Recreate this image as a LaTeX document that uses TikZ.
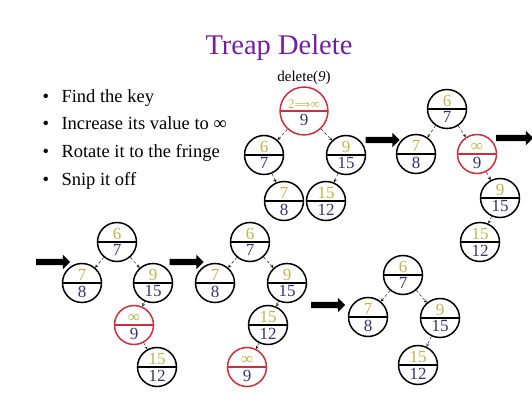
\documentclass[tikz,border=0pt]{standalone}
\usepackage{fontspec}
\setmainfont{Liberation Serif}
\newfontfamily\tpsym{DejaVu Sans}
\usepackage{xcolor}
\usetikzlibrary{shapes,arrows,positioning}
\definecolor{tpkey}{RGB}{190,180,80}
\definecolor{tpprio}{RGB}{50,50,110}
\definecolor{tpred}{RGB}{205,45,60}
\definecolor{tppurple}{RGB}{115,30,160}

\begin{document}
\begin{tikzpicture}[x=1pt, y=-1pt,
    tnode/.style={circle split, draw, line width=1.5pt, minimum size=39pt,
                  inner sep=2pt, font=\fontsize{17}{17}\selectfont},
    delnode/.style={tnode, draw=tpred},
    link/.style={->, >=stealth, thin, densely dashed},
    bigarrow/.style={single arrow, fill=black, inner sep=3pt, minimum height=34pt,
                     single arrow head extend=4pt, single arrow head indent=0pt},
    bullet/.style={anchor=base west, font=\fontsize{18.5}{18.5}\selectfont}
]
    \useasboundingbox (0,0) rectangle (532,411);

    % Title and bullets
    \node[anchor=base, text=tppurple, font=\fontsize{28.5}{28.5}\selectfont] (title) at (279,55) {Treap Delete};
    \node[bullet] (b1) at (39,103) {\makebox[19pt][l]{\textbullet}Find the key};
    \node[bullet] (b2) at (39,130) {\makebox[19pt][l]{\textbullet}Increase its value to ∞};
    \node[bullet] (b3) at (39,158) {\makebox[19pt][l]{\textbullet}Rotate it to the fringe};
    \node[bullet] (b4) at (39,186) {\makebox[19pt][l]{\textbullet}Snip it off};
    \node[anchor=base, font=\fontsize{15}{15}\selectfont] (del) at (304,82) {delete(\textit{9})};

    % Tree 1
    \node[delnode, minimum size=46pt] (a0) at (304,111)
        {{\color{tpkey}\fontsize{13}{13}\selectfont 2{\tpsym\fontsize{11}{11}\selectfont ⟹}∞}\nodepart{lower}{\color{tpprio}9}};
    \node[tnode] (a1) at (264,155) {{\color{tpkey}6}\nodepart{lower}{\color{tpprio}7}};
    \node[tnode] (a2) at (346,155) {{\color{tpkey}9}\nodepart{lower}{\color{tpprio}15}};
    \node[tnode] (a3) at (284,201) {{\color{tpkey}7}\nodepart{lower}{\color{tpprio}8}};
    \node[tnode] (a4) at (326,201) {{\color{tpkey}15}\nodepart{lower}{\color{tpprio}12}};
    \draw[link] (a0) -- (a1);
    \draw[link] (a0) -- (a2);
    \draw[link] (a1) -- (a3);
    \draw[link] (a2) -- (a4);

    % Tree 2
    \node[tnode] (b0) at (447,109) {{\color{tpkey}6}\nodepart{lower}{\color{tpprio}7}};
    \node[tnode] (b1) at (416,154) {{\color{tpkey}7}\nodepart{lower}{\color{tpprio}8}};
    \node[delnode] (b2) at (477,154) {{\color{tpkey}∞}\nodepart{lower}{\color{tpprio}9}};
    \node[tnode] (b3) at (500,198) {{\color{tpkey}9}\nodepart{lower}{\color{tpprio}15}};
    \node[tnode] (b4) at (480,242) {{\color{tpkey}15}\nodepart{lower}{\color{tpprio}12}};
    \draw[link] (b0) -- (b1);
    \draw[link] (b0) -- (b2);
    \draw[link] (b2) -- (b3);
    \draw[link] (b3) -- (b4);

    % Tree 3
    \node[tnode] (c0) at (117,242) {{\color{tpkey}6}\nodepart{lower}{\color{tpprio}7}};
    \node[tnode] (c1) at (82,283) {{\color{tpkey}7}\nodepart{lower}{\color{tpprio}8}};
    \node[tnode] (c2) at (153,283) {{\color{tpkey}9}\nodepart{lower}{\color{tpprio}15}};
    \node[delnode] (c3) at (134,325) {{\color{tpkey}∞}\nodepart{lower}{\color{tpprio}9}};
    \node[tnode] (c4) at (157,367) {{\color{tpkey}15}\nodepart{lower}{\color{tpprio}12}};
    \draw[link] (c0) -- (c1);
    \draw[link] (c0) -- (c2);
    \draw[link] (c2) -- (c3);
    \draw[link] (c3) -- (c4);

    % Tree 4
    \node[tnode] (d0) at (250,242) {{\color{tpkey}6}\nodepart{lower}{\color{tpprio}7}};
    \node[tnode] (d1) at (215,283) {{\color{tpkey}7}\nodepart{lower}{\color{tpprio}8}};
    \node[tnode] (d2) at (287,283) {{\color{tpkey}9}\nodepart{lower}{\color{tpprio}15}};
    \node[tnode] (d3) at (268,325) {{\color{tpkey}15}\nodepart{lower}{\color{tpprio}12}};
    \node[delnode] (d4) at (247,367) {{\color{tpkey}∞}\nodepart{lower}{\color{tpprio}9}};
    \draw[link] (d0) -- (d1);
    \draw[link] (d0) -- (d2);
    \draw[link] (d2) -- (d3);
    \draw[link] (d3) -- (d4);

    % Tree 5
    \node[tnode] (e0) at (403,275) {{\color{tpkey}6}\nodepart{lower}{\color{tpprio}7}};
    \node[tnode] (e1) at (368,317) {{\color{tpkey}7}\nodepart{lower}{\color{tpprio}8}};
    \node[tnode] (e2) at (440,318) {{\color{tpkey}9}\nodepart{lower}{\color{tpprio}15}};
    \node[tnode] (e3) at (418,365) {{\color{tpkey}15}\nodepart{lower}{\color{tpprio}12}};
    \draw[link] (e0) -- (e1);
    \draw[link] (e0) -- (e2);
    \draw[link] (e2) -- (e3);

    % Step arrows
    \node[bigarrow] (s1) at (381,140) {};
    \node[bigarrow, minimum height=37pt] (s2) at (513,138) {};
    \node[bigarrow] (s3) at (51.5,262) {};
    \node[bigarrow] (s4) at (185,262) {};
    \node[bigarrow] (s5) at (326.5,305) {};
\end{tikzpicture}
\end{document}
